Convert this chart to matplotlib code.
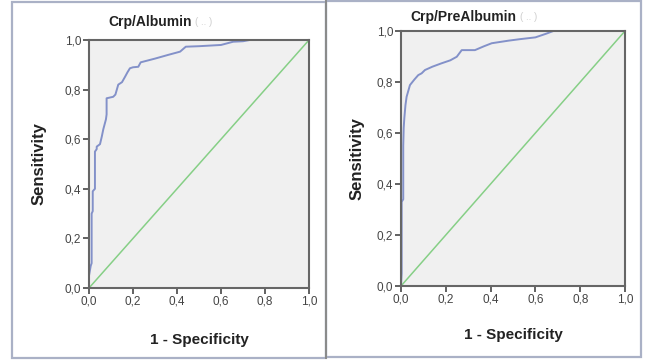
"""ROC curves: Crp/Albumin and Crp/PreAlbumin (SPSS-style panels)."""
import matplotlib
matplotlib.use("Agg")
import matplotlib.pyplot as plt
from matplotlib.patches import Rectangle
from matplotlib.ticker import FuncFormatter

plt.rcParams["font.family"] = ["Liberation Sans", "DejaVu Sans"]

# ROC points (1 - specificity, sensitivity)
alb_fpr = [0, 0, 0.008, 0.012, 0.012, 0.017, 0.017, 0.027, 0.027, 0.035, 0.035,
           0.05, 0.058, 0.065, 0.077, 0.08, 0.08, 0.11, 0.12, 0.133, 0.15, 0.164,
           0.175, 0.186, 0.2, 0.224, 0.235, 0.3, 0.36, 0.414, 0.44, 0.5, 0.6,
           0.655, 0.7, 0.73, 1.0]
alb_tpr = [0, 0.05, 0.09, 0.1, 0.3, 0.31, 0.39, 0.4, 0.55, 0.56, 0.57,
           0.58, 0.61, 0.64, 0.68, 0.7, 0.765, 0.771, 0.78, 0.82, 0.83, 0.852,
           0.87, 0.886, 0.89, 0.892, 0.91, 0.925, 0.94, 0.953, 0.973, 0.975, 0.98,
           0.993, 0.995, 1.0, 1.0]

pre_fpr = [0, 0.003, 0.003, 0.01, 0.01, 0.012, 0.015, 0.02, 0.025, 0.04, 0.06,
           0.077, 0.092, 0.107, 0.14, 0.18, 0.22, 0.249, 0.271, 0.33, 0.37,
           0.405, 0.479, 0.531, 0.6, 0.65, 0.68, 1.0]
pre_tpr = [0, 0.05, 0.33, 0.34, 0.55, 0.62, 0.66, 0.71, 0.742, 0.788, 0.81,
           0.827, 0.834, 0.847, 0.86, 0.873, 0.885, 0.899, 0.925, 0.925, 0.94,
           0.952, 0.962, 0.968, 0.975, 0.99, 1.0, 1.0]

titles = ["Crp/Albumin", "Crp/PreAlbumin"]
ticks = [0.0, 0.2, 0.4, 0.6, 0.8, 1.0]

W, H = 647, 361
fig = plt.figure(figsize=(W / 100, H / 100), dpi=100)
fig.patch.set_facecolor("white")


def px_box(x0, y0, x1, y1):
    # pixel box (top-left origin) -> figure fraction rect
    return [x0 / W, 1 - y1 / H, (x1 - x0) / W, (y1 - y0) / H]


# panel frames
for (x0, y0, x1, y1) in [(12, 2, 326, 358), (326, 1, 641, 357)]:
    fig.add_artist(Rectangle((x0 / W, 1 - y1 / H), (x1 - x0) / W, (y1 - y0) / H,
                             transform=fig.transFigure, fill=False,
                             edgecolor="#aab1c6", linewidth=1.6))
fig.add_artist(plt.Line2D([326 / W, 326 / W], [1 - 358 / H, 1 - 1 / H],
                          transform=fig.transFigure, color="#8a8a8a", linewidth=1.4))

axes_boxes = [px_box(89, 40, 309, 288), px_box(401, 31, 625, 286)]
curves = [(alb_fpr, alb_tpr), (pre_fpr, pre_tpr)]
title_pos = [(108, 22), (410, 17)]
ylabel_x = [47, 365]
xlabel_y = [333, 328]

comma = FuncFormatter(lambda v, pos: f"{v:.1f}".replace(".", ","))

for i, box in enumerate(axes_boxes):
    ax = fig.add_axes(box)
    ax.set_facecolor("#f0f0f0")
    fpr, tpr = curves[i]
    ax.plot([0, 1], [0, 1], color="#86cf86", linewidth=1.1)
    ax.plot(fpr, tpr, color="#8391c9", linewidth=1.4, solid_joinstyle="round")
    ax.set_xlim(0, 1)
    ax.set_ylim(0, 1)
    ax.set_xticks(ticks)
    ax.set_yticks(ticks)
    ax.xaxis.set_major_formatter(comma)
    ax.yaxis.set_major_formatter(comma)
    ax.tick_params(direction="out", length=4, width=1.3, color="#555555",
                   labelsize=8.5, labelcolor="#444444", pad=1.5)
    for s in ax.spines.values():
        s.set_color("#666666")
        s.set_linewidth(1.5)

    tx, ty = title_pos[i]
    t = fig.text(tx / W, 1 - ty / H, titles[i], fontsize=10, fontweight="bold",
                 color="#222222", ha="left", va="center")
    # faint blurred suffix seen after the title
    fig.canvas.draw()
    ext = t.get_window_extent()
    fig.text((ext.x1 + 4) / W, 1 - ty / H, "( .. )", fontsize=7,
             color="#cfcfcf", ha="left", va="center")

    ax.set_ylabel("Sensitivity", fontsize=12, fontweight="bold", color="#222222")
    ax.set_xlabel("1 - Specificity", fontsize=11, fontweight="bold", color="#222222")
    ax.yaxis.set_label_coords((ylabel_x[i] - box[0] * W) / (box[2] * W), 0.5)
    ax.xaxis.set_label_coords(0.5, -(xlabel_y[i] - (1 - box[1]) * H) / (box[3] * H))

plt.savefig("out.png", dpi=100)
